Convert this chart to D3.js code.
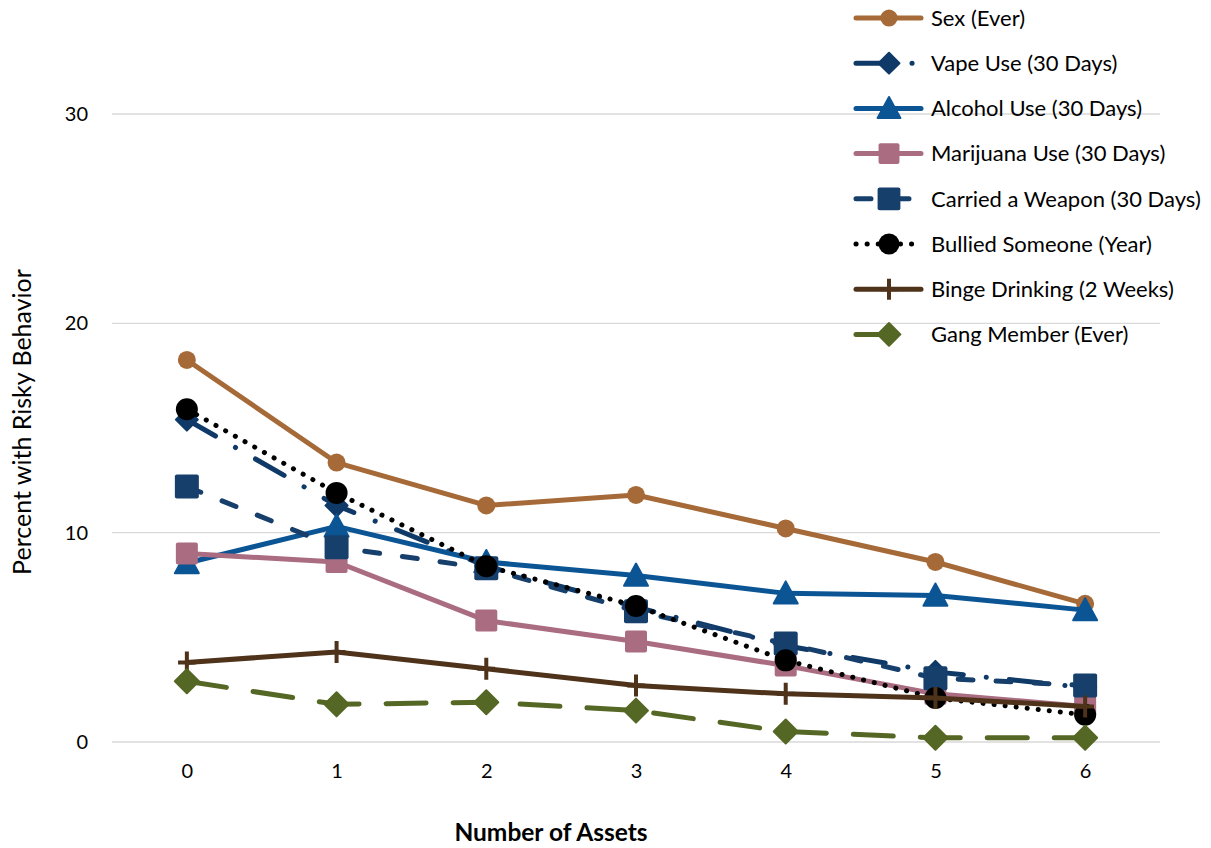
<!DOCTYPE html>
<html><head><meta charset="utf-8">
<script src="https://cdn.jsdelivr.net/npm/d3@7"></script>
<style>body{margin:0;background:#fff}svg{display:block}text{font-family:Lato,"Open Sans",sans-serif;fill:#000}</style>
</head><body>
<svg id="c" width="1211" height="848"></svg>
<script>
const categories = [0,1,2,3,4,5,6];
const yTicks = [0,10,20,30];
const seriesNames = ["Sex (Ever)","Vape Use (30 Days)","Alcohol Use (30 Days)","Marijuana Use (30 Days)","Carried a Weapon (30 Days)","Bullied Someone (Year)","Binge Drinking (2 Weeks)","Gang Member (Ever)"];
const sexEver = [18.25,13.35,11.3,11.8,10.2,8.6,6.6];
const vapeUse = [15.4,11.3,8.4,6.45,4.6,3.35,2.6];
const alcoholUse = [8.55,10.3,8.6,7.95,7.1,7.0,6.3];
const marijuanaUse = [9.0,8.6,5.8,4.8,3.65,2.3,1.7];
const carriedWeapon = [12.2,9.3,8.3,6.25,4.7,3.05,2.7];
const bulliedSomeone = [15.9,11.9,8.4,6.5,3.9,2.1,1.3];
const bingeDrinking = [3.8,4.3,3.5,2.7,2.3,2.1,1.7];
const gangMember = [2.9,1.8,1.9,1.5,0.5,0.2,0.2];

const data = [sexEver,vapeUse,alcoholUse,marijuanaUse,carriedWeapon,bulliedSomeone,bingeDrinking,gangMember];
const styles = [
  {color:"#A66A38", dash:null, marker:"circle", size:9},
  {color:"#0F3A68", dash:"33,23,0.1,23", marker:"diamond", size:11},
  {color:"#0B5595", dash:null, marker:"triangle", size:12},
  {color:"#A96C80", dash:null, marker:"square", size:11},
  {color:"#173F6C", dash:"15,23", marker:"square", size:12},
  {color:"#000000", dash:"0.1,11", marker:"circle", size:11, lw:5},
  {color:"#4E321A", dash:null, marker:"plus", size:11},
  {color:"#556724", dash:"40,27", marker:"diamond", size:12}
];

const svg = d3.select("#c");
const x = d3.scaleLinear().domain([-0.5,6.5]).range([112,1160]);
const y = d3.scaleLinear().domain([0,30]).range([742,114]);

// grid
svg.append("g").selectAll("line").data(yTicks).join("line")
  .attr("x1",x(-0.5)).attr("x2",x(6.5)).attr("y1",d=>y(d)).attr("y2",d=>y(d))
  .attr("stroke","#d9d9d9").attr("stroke-width",1.3);

// y axis labels
const ya = svg.append("g").attr("transform",`translate(${x(-0.5)},0)`)
  .call(d3.axisLeft(y).tickValues(yTicks).tickSize(0).tickPadding(24).tickFormat(d3.format("d")));
ya.select(".domain").remove();
ya.selectAll("text").style("font-size","20px").style("font-family","Lato,sans-serif").attr("fill","#000");

const xa = svg.append("g").attr("transform",`translate(0,${y(0)})`)
  .call(d3.axisBottom(x).tickValues(categories).tickSize(0).tickPadding(22).tickFormat(d3.format("d")));
xa.select(".domain").remove();
xa.selectAll("text").style("font-size","20px").style("font-family","Lato,sans-serif").attr("fill","#000");

svg.append("text").attr("x",551).attr("y",841).attr("text-anchor","middle")
  .style("font-size","24.5px").style("font-weight","bold").text("Number of Assets");
svg.append("text").attr("transform","translate(22,422) rotate(-90)").attr("text-anchor","middle").attr("dy","0.35em")
  .style("font-size","25px").text("Percent with Risky Behavior");

function drawMarker(g, type, size, color){
  if(type==="circle") g.append("circle").attr("r",size).attr("fill",color);
  else if(type==="square") g.append("rect").attr("x",-size).attr("y",-size).attr("width",2*size).attr("height",2*size).attr("rx",2).attr("fill",color);
  else if(type==="diamond") g.append("path").attr("d",`M0,${-size}L${size},0L0,${size}L${-size},0Z`).attr("fill",color).attr("stroke",color).attr("stroke-width",2).attr("stroke-linejoin","round");
  else if(type==="triangle") g.append("path").attr("d",`M0,${-size}L${size},${size*0.85}L${-size},${size*0.85}Z`).attr("fill",color).attr("stroke",color).attr("stroke-width",2).attr("stroke-linejoin","round");
  else if(type==="plus"){ g.append("path").attr("d",`M0,${-size}V${size}M${-size*0.8},0H${size*0.8}`).attr("stroke",color).attr("stroke-width",4); }
}

const line = d3.line().x((d,i)=>x(categories[i])).y(d=>y(d));
data.forEach((vals,si)=>{
  const s = styles[si];
  const g = svg.append("g");
  g.append("path").attr("d",line(vals)).attr("fill","none").attr("stroke",s.color)
    .attr("stroke-width",s.lw||5).attr("stroke-linecap",s.dash?"round":"butt").attr("stroke-linejoin","round")
    .attr("stroke-dasharray",s.dash);
  vals.forEach((v,i)=>{
    const mg = g.append("g").attr("transform",`translate(${x(categories[i])},${y(v)})`);
    drawMarker(mg,s.marker,s.size,s.color);
  });
});

// legend
const lg = svg.append("g");
seriesNames.forEach((name,i)=>{
  const s = styles[i];
  const cy = 18 + i*45.2;
  const it = lg.append("g");
  it.append("line").attr("x1",856).attr("x2",921).attr("y1",cy).attr("y2",cy)
    .attr("stroke",s.color).attr("stroke-width",s.lw||5).attr("stroke-linecap","round")
    .attr("stroke-dasharray",s.dash);
  const mg = it.append("g").attr("transform",`translate(889,${cy})`);
  drawMarker(mg,s.marker,s.size*0.95,s.color);
  it.append("text").attr("x",931).attr("y",cy).attr("dy","0.35em").style("font-size","22px").text(name);
});
</script>
</body></html>
